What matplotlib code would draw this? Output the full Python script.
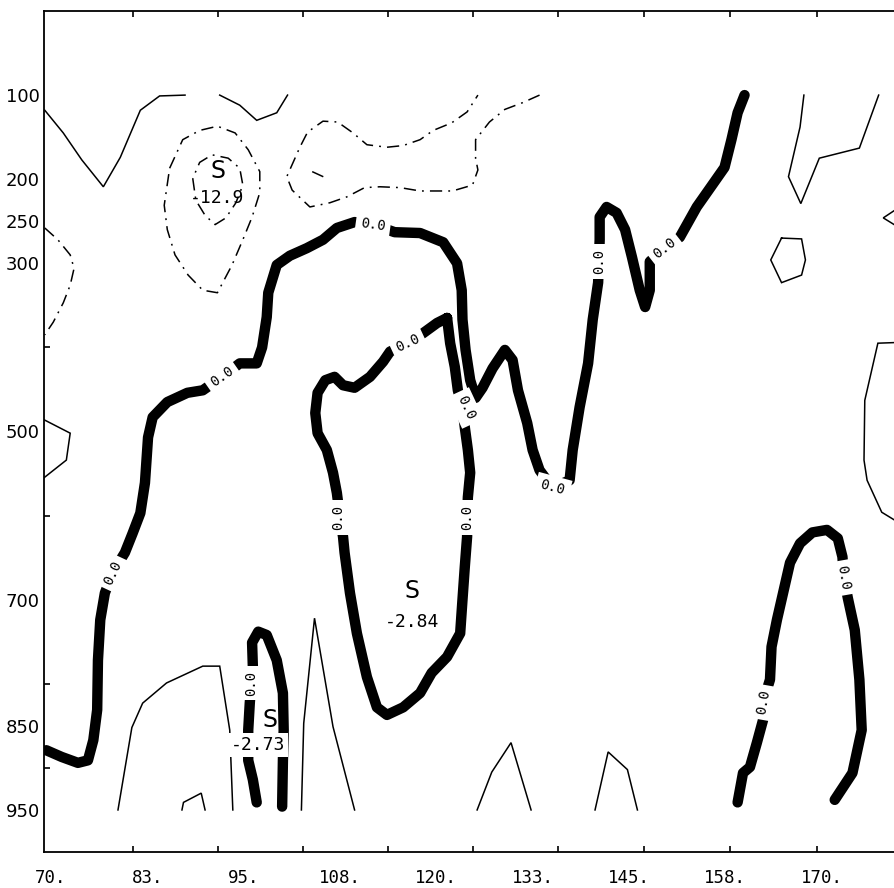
import matplotlib
matplotlib.use("Agg")
import matplotlib.pyplot as plt

# ---------------- axis description ----------------
x_limits = (69.1, 180.3)
p_limits = (1000, 0)
x_label_pos = [70, 82.5, 95, 107.5, 120, 132.5, 145, 157.5, 170]
x_label_txt = ["70.", "83.", "95.", "108.", "120.", "133.", "145.", "158.", "170."]
x_tick_marks = [80.6, 91.7, 102.7, 113.7, 124.7, 135.8, 146.9, 158.1, 169.4]
p_label_pos = [100, 200, 250, 300, 500, 700, 850, 950]
p_label_txt = ["100", "200", "250", "300", "500", "700", "850", "950"]
p_tick_marks = [100, 200, 300, 400, 500, 600, 700, 800, 900]

# ---------------- zero contours (thick) ----------------
zero_a_lon = [69.4, 71.4, 73.5, 74.8, 75.5, 76.0, 76.1, 76.4, 77.0, 78.0, 79.6, 80.6, 81.6, 82.2,
              82.6, 83.2, 85.1, 87.7, 89.7, 92.2, 94.5, 96.7, 97.4, 98.0, 98.2, 99.3, 101.0, 103.2,
              105.3, 107.1, 109.4, 111.8, 114.6, 117.9, 120.9, 122.7, 123.3, 123.4, 123.8, 124.4,
              125.1, 126.0, 127.3, 128.9, 129.9, 130.6, 131.8, 132.5, 133.4, 135.1, 137.3, 137.7,
              138.6, 139.7, 140.3, 141.0, 141.1, 141.2, 141.2, 142.1, 143.4, 144.5, 145.4, 146.4,
              147.1, 147.7, 147.7, 149.6, 151.6, 153.8, 156.1, 157.4, 158.3, 159.1, 160.0]
zero_a_p = [879, 887, 894, 891, 867, 831, 772, 724, 692, 668, 644, 621, 597, 561,
            507, 483, 465, 454, 451, 435, 419, 419, 400, 364, 335, 302, 291, 282,
            272, 258, 251, 254, 263, 264, 275, 300, 332, 367, 403, 439,
            460, 448, 425, 403, 415, 451, 490, 522, 546, 567, 558, 522,
            471, 419, 367, 323, 298, 272, 245, 233, 240, 260, 293, 332,
            352, 332, 298, 282, 269, 233, 203, 186, 153, 121, 100]

zero_b_lon = [121.4, 121.8, 122.4, 122.8, 123.4, 123.7, 124.1, 124.4, 124.1, 124.0, 124.0, 123.7,
              123.4, 123.1, 121.4, 119.4, 117.9, 115.7, 113.6, 112.3, 111.0, 109.7, 108.8, 108.1,
              107.9, 107.5, 107.1, 106.6, 105.8, 104.6, 104.3, 104.6, 105.6, 106.8, 107.9, 109.4,
              111.4, 113.1, 114.0, 116.3, 118.3, 120.1, 121.4]
zero_b_p = [365, 395, 423, 451, 472, 495, 522, 549, 578, 602, 625, 661,
            700, 740, 768, 787, 811, 828, 837, 828, 792, 740, 692, 644,
            625, 602, 573, 549, 522, 502, 478, 454, 439, 435, 445, 448,
            435, 417, 405, 395, 383, 371, 365]

zero_c_lon = [96.7, 96.2, 95.6, 95.6, 95.8, 96.0, 96.2, 96.1, 96.9, 98.0, 99.3, 100.1, 100.2, 100.1, 100.0]
zero_c_p = [941, 914, 891, 855, 823, 799, 780, 751, 738, 742, 772, 811, 855, 891, 946]

zero_d_lon = [159.1, 159.8, 160.7, 161.6, 162.4, 162.4, 163.3, 163.5, 164.2, 165.0, 165.9, 167.2,
              168.8, 170.7, 172.1, 172.7, 172.9, 173.4, 174.3, 174.9, 175.2, 174.0, 171.7]
zero_d_p = [941, 906, 899, 870, 843, 822, 795, 756, 724, 692, 656, 633,
            620, 617, 627, 649, 674, 698, 736, 795, 855, 906, 938]

# "0.0" labels on the zero contour
zero_lab_lon = [78.0, 92.2, 111.8, 135.1, 141.1, 149.6, 123.8, 124.0, 107.2, 116.3, 96.0, 162.4, 172.8]
zero_lab_p = [668, 435, 254, 567, 298, 282, 472, 602, 602, 395, 799, 822, 674]
zero_lab_rot = [65, 35, -8, -15, 90, 38, -65, 90, 90, 25, 90, 80, -80]

# ---------------- positive contours (thin solid) ----------------
pos1_lon = [69.2, 71.6, 74.0, 76.8, 79.0, 81.6, 84.1, 87.4]
pos1_p = [118, 145, 177, 209, 174, 118, 101, 100]
pos2_lon = [91.9, 94.5, 96.7, 99.3, 100.7]
pos2_p = [100, 112, 130, 121, 100]
pos3_lon = [167.7, 167.2, 165.7, 167.3, 169.7, 174.9, 177.4]
pos3_p = [100, 138, 197, 229, 175, 163, 100]
pos4_lon = [164.8, 167.4, 167.9, 167.4, 164.8, 163.4, 164.8]
pos4_p = [270, 271, 296, 314, 323, 296, 270]
pos5_lon = [180.3, 178.0, 180.3]
pos5_p = [232, 246, 259]
pos6_lon = [180.3, 177.3, 175.6, 175.5, 175.9, 177.8, 180.3]
pos6_p = [394, 395, 463, 534, 558, 596, 610]
pos7_lon = [69.1, 72.5, 72.0, 69.1]
pos7_p = [486, 502, 534, 555]
pos8_lon = [78.7, 80.5, 81.9, 85.0, 89.7, 91.9, 93.2, 93.6]
pos8_p = [950, 852, 823, 799, 779, 779, 855, 950]
pos9_lon = [87.0, 87.2, 89.5, 90.0]
pos9_p = [950, 941, 930, 950]
pos10_lon = [102.5, 102.8, 104.2, 106.6, 109.4]
pos10_p = [950, 847, 722, 851, 950]
pos11_lon = [125.3, 127.2, 129.7, 132.3]
pos11_p = [950, 905, 870, 950]
pos12_lon = [140.6, 142.3, 144.8, 146.1]
pos12_p = [950, 881, 902, 950]

# ---------------- negative contours (thin dash-dot) ----------------
neg1_lon = [88.4, 88.8, 90.0, 91.3, 92.7, 94.0, 94.9, 94.5, 93.0, 90.9, 89.3, 88.4]
neg1_p = [199, 225, 243, 254, 246, 228, 207, 187, 175, 171, 180, 199]
neg2_lon = [85.4, 87.1, 89.3, 91.6, 93.9, 95.6, 97.1, 97.1, 96.1, 94.9, 93.5, 91.6, 89.7,
            87.8, 86.1, 85.1, 84.7, 85.4]
neg2_p = [187, 153, 142, 137, 145, 165, 191, 216, 245, 272, 302, 335, 332,
          314, 290, 260, 231, 187]
neg3_lon = [69.2, 70.9, 72.5, 73.0, 72.5, 71.6, 70.3, 69.2]
neg3_p = [258, 272, 290, 306, 326, 347, 370, 385]
neg4_lon = [133.4, 131.2, 128.9, 126.9, 125.1, 125.1, 125.4, 124.7, 122.1, 117.9, 115.3, 112.7,
            110.7, 108.4, 106.2, 103.6, 101.3, 100.6, 102.3, 103.3, 105.3, 107.2, 109.2, 111.0,
            113.6, 115.7, 117.9, 119.6, 122.0, 124.0, 125.4]
neg4_p = [100, 109, 117, 132, 153, 175, 189, 207, 214, 214, 210, 209,
          210, 221, 228, 233, 213, 197, 162, 144, 131, 132, 145, 159,
          162, 160, 153, 142, 133, 120, 100]
neg5_lon = [103.9, 105.8]
neg5_p = [191, 199]

# ---------------- extremum labels ----------------
ext_lon = [91.7, 116.8, 98.4]
ext_p = [190, 690, 843]
ext_val_lon = [91.6, 116.8, 96.9]
ext_val_p = [222, 726, 873]
ext_val_txt = ["-12.9", "-2.84", "-2.73"]

# =========================================================
fig = plt.figure(figsize=(8.94, 8.88), dpi=100)
ax = fig.add_axes([44 / 894, 36 / 888, 857 / 894, 841 / 888])
ax.set_xlim(*x_limits)
ax.set_ylim(*p_limits)

thin = dict(color="black", lw=1.1, solid_joinstyle="miter")
for lo, pp in [(pos1_lon, pos1_p), (pos2_lon, pos2_p), (pos3_lon, pos3_p), (pos4_lon, pos4_p),
               (pos5_lon, pos5_p), (pos6_lon, pos6_p), (pos7_lon, pos7_p), (pos8_lon, pos8_p),
               (pos9_lon, pos9_p), (pos10_lon, pos10_p), (pos11_lon, pos11_p), (pos12_lon, pos12_p)]:
    ax.plot(lo, pp, **thin, zorder=2)

for lo, pp in [(neg1_lon, neg1_p), (neg2_lon, neg2_p), (neg3_lon, neg3_p), (neg4_lon, neg4_p),
               (neg5_lon, neg5_p)]:
    ax.plot(lo, pp, color="black", lw=1.1, dashes=(8, 4, 1.2, 4), zorder=2)

for lo, pp in [(zero_a_lon, zero_a_p), (zero_b_lon, zero_b_p), (zero_c_lon, zero_c_p),
               (zero_d_lon, zero_d_p)]:
    ax.plot(lo, pp, color="black", lw=7.5, solid_capstyle="round", solid_joinstyle="round", zorder=3)

for lo, pp, r in zip(zero_lab_lon, zero_lab_p, zero_lab_rot):
    ax.text(lo, pp, "0.0", rotation=r, rotation_mode="anchor", ha="center", va="center",
            family="DejaVu Sans Mono", fontsize=10, zorder=5,
            bbox=dict(boxstyle="square,pad=0.35", fc="white", ec="none"))

for lo, pp in zip(ext_lon, ext_p):
    ax.text(lo, pp, "S", ha="center", va="center", fontsize=17, family="DejaVu Sans", zorder=5)
for lo, pp, t in zip(ext_val_lon, ext_val_p, ext_val_txt):
    ax.text(lo, pp, t, ha="center", va="center", fontsize=13, family="DejaVu Sans Mono", zorder=5,
            bbox=dict(boxstyle="square,pad=0.15", fc="white", ec="none") if t == "-2.73" else None)

# ticks
ax.set_xticks(x_label_pos)
ax.set_xticklabels(x_label_txt, family="DejaVu Sans Mono", fontsize=12.5)
ax.set_xticks(x_tick_marks, minor=True)
ax.set_yticks(p_label_pos)
ax.set_yticklabels(p_label_txt, family="DejaVu Sans", fontsize=13)
ax.set_yticks(p_tick_marks, minor=True)
ax.tick_params(which="major", length=0)
ax.tick_params(axis="x", which="major", pad=12)
ax.tick_params(axis="y", which="major", pad=3)
ax.tick_params(which="minor", direction="in", length=4.5, width=1.2, top=True)

for s in ax.spines.values():
    s.set_linewidth(1.3)

fig.savefig("out.png", dpi=100)
